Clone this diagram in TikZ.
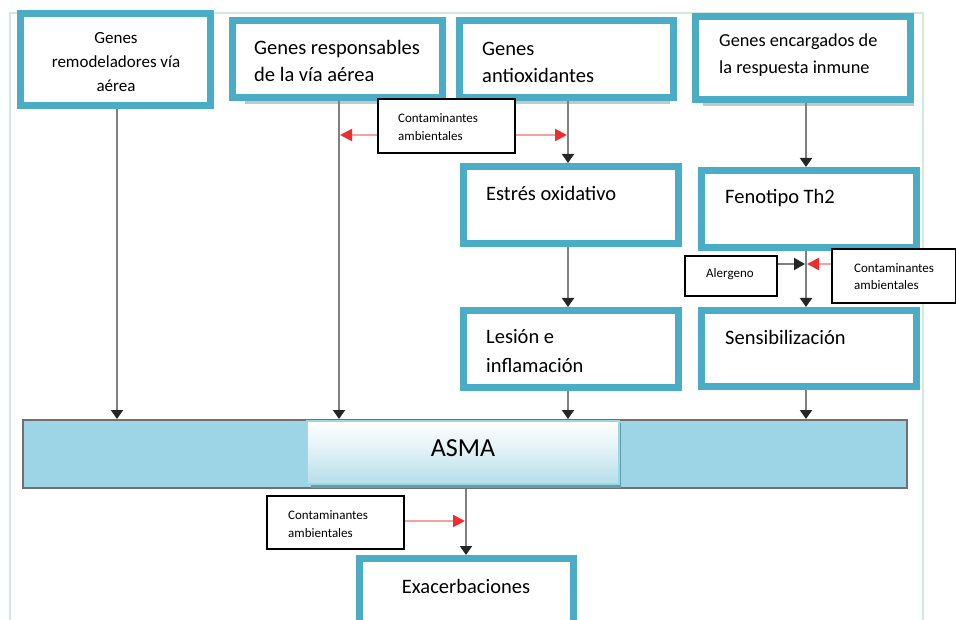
\documentclass[tikz,border=0pt]{standalone}
\usepackage{fontspec}
\setmainfont{Carlito}
\usetikzlibrary{arrows.meta,calc}
\definecolor{tealb}{HTML}{4BACC6}
\definecolor{framec}{HTML}{D3E9DF}
\definecolor{barfill}{HTML}{9DD5E6}
\definecolor{bardraw}{HTML}{707070}
\definecolor{innerb}{HTML}{9FD6E5}
\definecolor{innersh}{HTML}{5E9FAF}
\definecolor{innerlow}{HTML}{B5DEEA}
\definecolor{redline}{HTML}{F4A2A2}
\definecolor{redhead}{HTML}{EE2E2E}
\definecolor{connc}{HTML}{7F7F7F}
\tikzset{
  bx/.style={draw=tealb, line width=7pt, fill=white, inner sep=0pt},
  lbl/.style={draw=black, line width=1.6pt, fill=white, inner sep=0pt},
  txt/.style={inner sep=0pt, font=\fontsize{20.5}{27}\selectfont, align=left},
  stxt/.style={inner sep=0pt, font=\fontsize{13}{17.5}\selectfont, align=left},
  conn/.style={draw=connc, line width=2pt, -{Triangle[width=12pt,length=9pt,color=black!85]}},
  redarr/.style={draw=redline, line width=2pt, -{Triangle[width=12pt,length=12pt,color=redhead]}},
  blkarr/.style={draw=connc, line width=2pt, -{Triangle[width=12pt,length=11pt,color=black!85]}},
  shd/.style={fill=gray!45, draw=none},
}
\begin{document}
\begin{tikzpicture}[x=1pt,y=-1pt]
\useasboundingbox (0,0) rectangle (956,620);
\fill[white] (0,0) rectangle (956,620);
% outer frame
\draw[framec, line width=2pt] (10,625) -- (10,13) -- (923,13) -- (923,625);

% shadows under top boxes
\fill[shd] (245,100) rectangle (446,104);
\fill[shd] (470,100) rectangle (670,104);
\fill[shd] (703,102) rectangle (914,106);

% boxes
\node[bx, minimum width=190pt, minimum height=92pt] (b1) at (115.5,59.5) {};
\node[bx, minimum width=210pt, minimum height=77pt] (b2) at (337.5,59) {};
\node[bx, minimum width=214pt, minimum height=77pt] (b3) at (566.5,59) {};
\node[bx, minimum width=215pt, minimum height=83pt] (b4) at (803,58) {};
\node[bx, minimum width=215pt, minimum height=77pt] (est) at (571,205) {};
\node[bx, minimum width=215pt, minimum height=77pt] (fen) at (809,209) {};
\node[bx, minimum width=215pt, minimum height=77pt] (les) at (571,349) {};
\node[bx, minimum width=215pt, minimum height=76pt] (sen) at (809,348.5) {};
\node[bx, minimum width=214pt, minimum height=75pt] (exa) at (466.5,596) {};

% texts
\node[inner sep=0pt, font=\fontsize{17}{24}\selectfont, align=center] (t1) at (116,62) {Genes\\remodeladores vía\\aérea};
\node[txt, anchor=west] (t2) at (254,60.5) {Genes responsables\\de la vía aérea};
\node[txt, anchor=west] (t3) at (482,62) {Genes\\antioxidantes};
\node[inner sep=0pt, font=\fontsize{18.3}{27}\selectfont, align=left, anchor=west] (t4) at (719,55) {Genes encargados de\\la respuesta inmune};
\node[txt, anchor=west] (t5) at (486,193) {Estrés oxidativo};
\node[txt, anchor=west] (t6) at (725,198) {Fenotipo Th2};
\node[txt, anchor=west, font=\fontsize{20.5}{29}\selectfont] (t7) at (486,351.5) {Lesión e\\inflamación};
\node[txt, anchor=west] (t8) at (725,337) {Sensibilización};
\node[txt] (t9) at (466,586) {Exacerbaciones};

% ASMA bar
\node[draw=bardraw, line width=2pt, fill=barfill, minimum width=884pt, minimum height=68pt, inner sep=0pt] (bar) at (465,454) {};
\fill[innersh] (311,423) rectangle (621,488);
\shade[top color=white, bottom color=innerlow, middle color=white!55!innerlow] (307,421) rectangle (619,484);
\draw[innerb, line width=1.5pt] (307,421) rectangle (619,484);
\node[inner sep=0pt, font=\fontsize{26}{30}\selectfont] (asma) at (463,448) {ASMA};

% label boxes
\node[lbl, minimum width=137pt, minimum height=54pt] (c1) at (446.5,126) {};
\node[stxt, anchor=west] (c1t) at (398,127) {Contaminantes\\ambientales};
\node[lbl, minimum width=92pt, minimum height=40pt] (al) at (731,276) {};
\node[stxt, anchor=west] (alt) at (706,274) {Alergeno};
\node[lbl, minimum width=124pt, minimum height=54pt] (c2) at (894,276) {};
\node[stxt, anchor=west] (c2t) at (854,276.5) {Contaminantes\\ambientales};
\node[lbl, minimum width=137pt, minimum height=53pt] (c3) at (335.5,522.5) {};
\node[stxt, anchor=west] (c3t) at (288,524) {Contaminantes\\ambientales};

% column coordinates
\coordinate (x1) at (117,0);
\coordinate (x2) at (339,0);
\coordinate (x3) at (568,0);
\coordinate (x4) at (806,0);
\coordinate (x5) at (466,0);

% connectors
\draw[conn] (x1 |- b1.south) -- (x1 |- bar.north);
\draw[conn] (x2 |- b2.south) -- (x2 |- bar.north);
\draw[conn] (x3 |- b3.south) -- (x3 |- est.north);
\draw[conn] (x3 |- est.south) -- (x3 |- les.north);
\draw[conn] (x3 |- les.south) -- (x3 |- bar.north);
\draw[conn] (x4 |- b4.south) -- (x4 |- fen.north);
\draw[conn] (x4 |- fen.south) -- (x4 |- sen.north);
\draw[conn] (x4 |- sen.south) -- (x4 |- bar.north);
\draw[conn] (x5 |- bar.south) -- (x5 |- exa.north);

% side arrows
\coordinate (r1) at (340,135);
\coordinate (r2) at (567,135);
\draw[redarr] (c1.west |- r1) -- (r1);
\draw[redarr] (c1.east |- r2) -- (r2);
\coordinate (j1) at (805,264);
\coordinate (j2) at (807,264);
\draw[blkarr] (al.east |- j1) -- (j1);
\draw[redarr] (c2.west |- j2) -- (j2);
\coordinate (r3) at (465,521);
\draw[redarr] (c3.east |- r3) -- (r3);
\end{tikzpicture}
\end{document}
